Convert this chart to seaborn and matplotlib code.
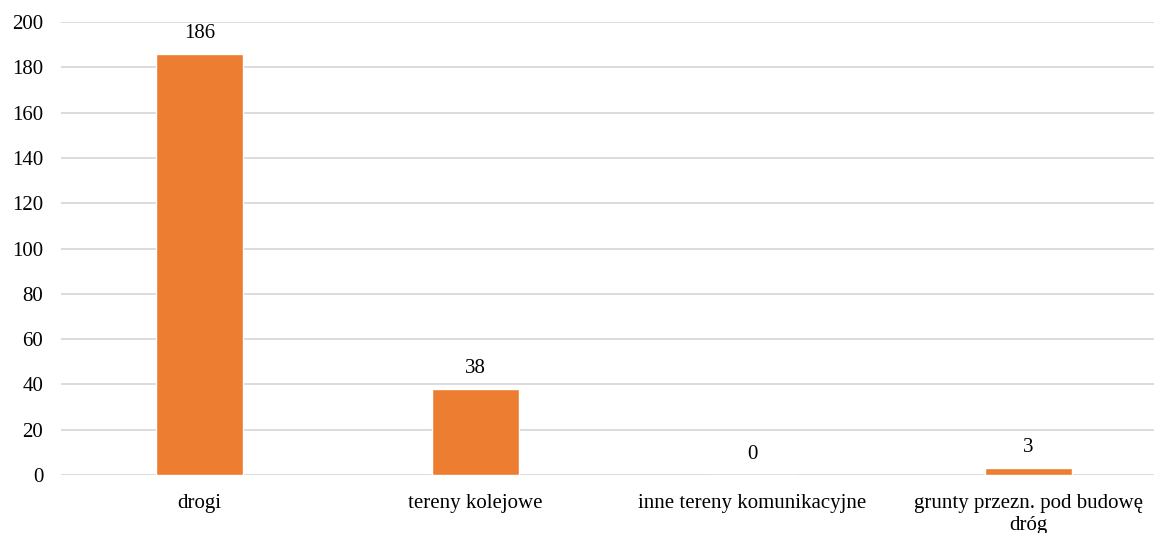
import pandas as pd
import seaborn as sns
import matplotlib.pyplot as plt

# data
categories = ["drogi", "tereny kolejowe", "inne tereny komunikacyjne", "grunty przezn. pod budowę\ndróg"]
values = [186, 38, 0, 3]

df = pd.DataFrame({"kategoria": categories, "wartosc": values})

sns.set_style("white")
plt.rcParams["font.family"] = ["Liberation Serif", "DejaVu Serif"]
plt.rcParams["text.color"] = "black"

fig = plt.figure(figsize=(11.54, 5.33), dpi=100)
# axes runs a bit past the right edge (original chart is cropped there)
ax = fig.add_axes([0.0531, 0.1088, 0.9577, 0.8499])

sns.barplot(x="kategoria", y="wartosc", data=df, color="#ED7D31", saturation=1,
            width=0.315, ax=ax, zorder=3)

# labels above bars
for i, v in enumerate(values):
    ax.annotate(str(v), (i, v), xytext=(0, 8), textcoords="offset points",
                ha="center", va="bottom", fontsize=15, color="black")

ax.set_ylim(0, 200)
ax.set_yticks(range(0, 201, 20))
ax.set_xlim(-0.5, 3.5)
ax.yaxis.grid(True, color="#d9d9d9", linewidth=1.3, zorder=0)
ax.xaxis.grid(False)
for s in ax.spines.values():
    s.set_visible(False)
ax.set_xlabel("")
ax.set_ylabel("")
ax.tick_params(axis="both", length=0, labelsize=15, labelcolor="black")
ax.tick_params(axis="y", pad=13)
ax.tick_params(axis="x", pad=14)
for lbl in ax.get_xticklabels():
    lbl.set_linespacing(1.15)

fig.savefig("out.png", dpi=100)
